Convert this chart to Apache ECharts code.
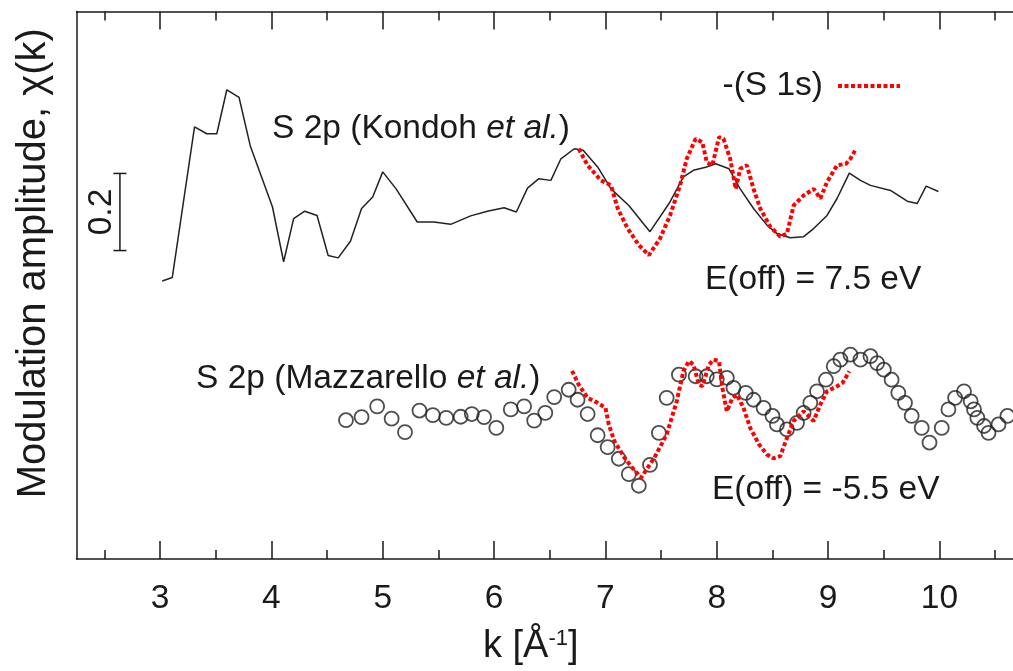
<!DOCTYPE html>
<html><head><meta charset="utf-8">
<script src="https://cdn.jsdelivr.net/npm/echarts@6/dist/echarts.min.js"></script>
<style>html,body{margin:0;padding:0;background:#fff}#c{width:1013px;height:671px}</style>
</head><body><div id="c"></div>
<script>
// ---- data (k in 1/Angstrom, chi in arbitrary vertical units) ----
const kondohK = [3.02,3.11,3.31,3.42,3.51,3.60,3.71,3.81,4.01,4.11,4.20,4.30,4.41,4.51,4.60,4.71,4.81,4.91,5.00,5.12,5.31,5.46,5.61,5.79,5.94,6.09,6.20,6.30,6.40,6.51,6.60,6.72,6.80,6.93,7.05,7.21,7.40,7.58,7.70,7.79,7.90,7.99,8.11,8.21,8.33,8.45,8.54,8.66,8.78,8.87,8.99,9.08,9.19,9.29,9.38,9.56,9.71,9.80,9.88,9.99];
const kondohY = [0.721,0.730,1.121,1.103,1.103,1.217,1.197,1.072,0.913,0.771,0.883,0.902,0.891,0.787,0.781,0.824,0.909,0.939,1.004,0.960,0.874,0.874,0.868,0.890,0.902,0.911,0.900,0.962,0.986,0.982,1.038,1.064,1.060,1.017,0.960,0.917,0.849,0.926,0.991,1.008,1.016,1.025,1.012,0.960,0.909,0.866,0.844,0.833,0.836,0.857,0.891,0.935,1.001,0.982,0.969,0.956,0.928,0.922,0.967,0.953];

const mazK = [4.67,4.81,4.95,5.08,5.20,5.33,5.45,5.57,5.70,5.80,5.91,6.02,6.15,6.27,6.36,6.46,6.54,6.67,6.75,6.84,6.93,7.02,7.12,7.21,7.30,7.40,7.48,7.55,7.66,7.81,7.91,8.00,8.09,8.15,8.26,8.33,8.42,8.50,8.54,8.63,8.72,8.78,8.84,8.90,8.98,9.05,9.11,9.20,9.29,9.38,9.44,9.50,9.57,9.63,9.69,9.75,9.84,9.91,10.02,10.08,10.14,10.22,10.28,10.31,10.34,10.40,10.44,10.53,10.61];
const mazY = [0.360,0.368,0.396,0.364,0.329,0.385,0.373,0.366,0.369,0.376,0.368,0.340,0.388,0.396,0.359,0.379,0.420,0.439,0.413,0.376,0.321,0.290,0.260,0.220,0.190,0.244,0.327,0.418,0.478,0.474,0.474,0.466,0.470,0.444,0.431,0.413,0.392,0.371,0.349,0.336,0.353,0.379,0.405,0.435,0.465,0.500,0.517,0.530,0.517,0.526,0.508,0.491,0.465,0.431,0.405,0.371,0.340,0.302,0.340,0.388,0.418,0.435,0.409,0.388,0.366,0.345,0.327,0.349,0.371];

const s1sUpK = [6.76,6.84,6.96,7.05,7.11,7.20,7.30,7.39,7.49,7.58,7.67,7.73,7.81,7.87,7.91,7.96,8.02,8.06,8.12,8.17,8.21,8.27,8.33,8.39,8.48,8.57,8.63,8.69,8.78,8.87,8.93,8.99,9.08,9.16,9.20,9.25];
const s1sUpY = [1.064,1.021,0.982,0.969,0.909,0.857,0.814,0.788,0.831,0.891,0.969,1.038,1.090,1.081,1.029,1.021,1.094,1.090,1.038,0.960,1.012,1.021,0.960,0.909,0.862,0.836,0.844,0.917,0.943,0.960,0.935,0.978,1.021,1.025,1.038,1.064];

const s1sLoK = [6.70,6.76,6.84,6.93,7.00,7.03,7.08,7.17,7.24,7.32,7.44,7.55,7.64,7.70,7.75,7.79,7.84,7.87,7.93,7.97,8.02,8.05,8.09,8.14,8.18,8.24,8.30,8.38,8.45,8.51,8.57,8.63,8.69,8.78,8.87,8.93,8.99,9.08,9.13,9.19];
const s1sLoY = [0.488,0.452,0.418,0.405,0.392,0.349,0.306,0.263,0.237,0.211,0.263,0.323,0.409,0.487,0.513,0.504,0.452,0.448,0.504,0.517,0.513,0.444,0.383,0.418,0.426,0.392,0.340,0.297,0.271,0.261,0.267,0.314,0.358,0.383,0.358,0.401,0.435,0.448,0.457,0.487];

const majorTicks = [3,4,5,6,7,8,9,10];
const minorTicks = [2.5,3.5,4.5,5.5,6.5,7.5,8.5,9.5,10.5];
const xRange = [2.25, 10.66];
const yRange = [0, 1.42];
const scaleBarK = 2.64;
const scaleBarRange = [0.8, 1.0];
const scaleBarLabel = '0.2';

// ---- helpers ----
const zip = (a, b) => a.slice(0, Math.min(a.length, b.length)).map((v, i) => [v, b[i]]);
const FONT = "'Liberation Sans', Arial, Helvetica, sans-serif";
const FS = 33.5;
const INK = '#1a1a1a';
const RED = '#ff0000';
const DOTS = [4, 2.5];

const chart = echarts.init(document.getElementById('c'), null, {renderer: 'canvas'});

function xAxisDef(pos, values, len, showLine, showLabel) {
  return {
    type: 'value', position: pos, min: xRange[0], max: xRange[1],
    axisLine: {show: showLine, onZero: false, lineStyle: {color: INK, width: 1.5}},
    axisTick: {show: true, inside: true, length: len, customValues: values, lineStyle: {color: INK, width: 1.5}},
    axisLabel: {show: showLabel, customValues: values, margin: 23, color: INK, fontSize: FS, fontFamily: FONT},
    splitLine: {show: false}
  };
}

const xMain = xAxisDef('bottom', majorTicks, 18, true, true);
xMain.name = 'k [Å{sup|-1}]';
xMain.nameLocation = 'middle';
xMain.nameGap = 69;
xMain.nameTextStyle = {
  color: INK, fontSize: 38, fontFamily: FONT, padding: [0, 28, 0, 0],
  rich: {sup: {fontSize: 22, fontFamily: FONT, color: INK, verticalAlign: 'top', padding: [0, 0, 16, 0]}}
};

const option = {
  animation: false,
  backgroundColor: '#fff',
  grid: {left: 76.5, right: 0, top: 11.5, bottom: 109.5, containLabel: false},
  legend: {
    data: ['-(S 1s)'], align: 'right', right: 111, top: 69, padding: 0,
    itemWidth: 62, itemHeight: 10,
    itemStyle: {opacity: 0},
    lineStyle: {color: RED, width: 4, type: DOTS, cap: 'butt'},
    textStyle: {color: INK, fontSize: FS, fontFamily: FONT, padding: [0, 10, 0, 0]}
  },
  xAxis: [
    xMain,
    xAxisDef('bottom', minorTicks, 9, false, false),
    xAxisDef('top', majorTicks, 18, true, false),
    xAxisDef('top', minorTicks, 9, false, false)
  ],
  yAxis: {
    type: 'value', min: yRange[0], max: yRange[1],
    axisLine: {show: true, lineStyle: {color: INK, width: 1.5}},
    axisTick: {show: false}, axisLabel: {show: false}, splitLine: {show: false},
    name: 'Modulation amplitude, χ(k)', nameLocation: 'middle', nameRotate: 90, nameGap: 23,
    nameTextStyle: {color: INK, fontSize: 40, fontFamily: FONT, padding: [0, 0, 0, 44]}
  },
  graphic: [
    {type: 'text', left: 272, top: 112, style: {text: 'S 2p (Kondoh {i|et al.})', fill: INK, font: FS + 'px ' + FONT,
      rich: {i: {fontStyle: 'italic', fontSize: FS, fontFamily: FONT, fill: INK}}}},
    {type: 'text', left: 196, top: 362, style: {text: 'S 2p (Mazzarello {i|et al.})', fill: INK, font: FS + 'px ' + FONT,
      rich: {i: {fontStyle: 'italic', fontSize: FS, fontFamily: FONT, fill: INK}}}},
    {type: 'text', left: 705, top: 263, style: {text: 'E(off) = 7.5 eV', fill: INK, font: FS + 'px ' + FONT}},
    {type: 'text', left: 712, top: 473, style: {text: 'E(off) = -5.5 eV', fill: INK, font: FS + 'px ' + FONT}}
  ],
  series: [
    {
      name: 'S 2p (Kondoh et al.)', type: 'line', xAxisIndex: 0, data: zip(kondohK, kondohY),
      symbol: 'none', lineStyle: {color: '#222', width: 1.5}, z: 2
    },
    {
      name: 'S 2p (Mazzarello et al.)', type: 'scatter', xAxisIndex: 0, data: zip(mazK, mazY),
      symbol: 'circle', symbolSize: 14,
      itemStyle: {color: 'rgba(255,255,255,0)', borderColor: '#222', borderWidth: 1.8}, z: 3
    },
    {
      name: '-(S 1s)', type: 'line', xAxisIndex: 0, data: zip(s1sUpK, s1sUpY), symbol: 'none',
      itemStyle: {color: RED},
      lineStyle: {color: RED, width: 4, type: DOTS, cap: 'butt'}, z: 4
    },
    {
      name: '-(S 1s) E(off) = -5.5 eV', type: 'line', xAxisIndex: 0, data: zip(s1sLoK, s1sLoY), symbol: 'none',
      itemStyle: {color: RED},
      lineStyle: {color: RED, width: 4, type: DOTS, cap: 'butt'}, z: 4
    },
    {
      name: 'scale bar', type: 'custom', xAxisIndex: 0, z: 5,
      data: [[scaleBarK, scaleBarRange[0], scaleBarRange[1]]],
      renderItem: function (params, api) {
        const p0 = api.coord([api.value(0), api.value(1)]);
        const p1 = api.coord([api.value(0), api.value(2)]);
        const st = {stroke: INK, lineWidth: 1.5};
        return {
          type: 'group',
          children: [
            {type: 'line', shape: {x1: p0[0], y1: p0[1], x2: p1[0], y2: p1[1]}, style: st},
            {type: 'line', shape: {x1: p0[0] - 6.5, y1: p0[1], x2: p0[0] + 6.5, y2: p0[1]}, style: st},
            {type: 'line', shape: {x1: p1[0] - 6.5, y1: p1[1], x2: p1[0] + 6.5, y2: p1[1]}, style: st},
            {type: 'text', x: p0[0] - 18, y: (p0[1] + p1[1]) / 2, rotation: Math.PI / 2,
              style: {text: scaleBarLabel, fill: INK, font: FS + 'px ' + FONT, align: 'center', verticalAlign: 'middle'}}
          ]
        };
      }
    }
  ]
};
chart.setOption(option);
</script>
</body></html>
